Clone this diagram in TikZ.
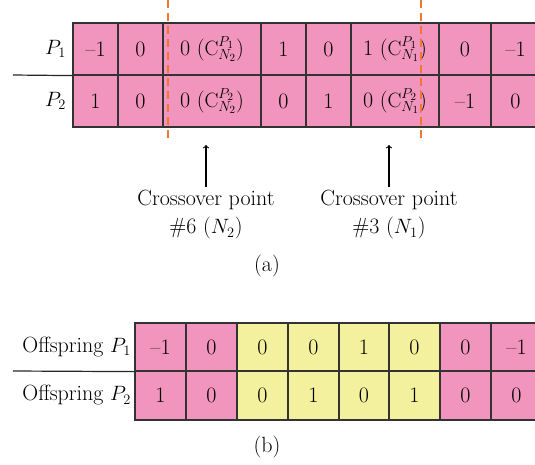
\documentclass[tikz,border=0pt]{standalone}
\usepackage{tikz}
\usetikzlibrary{positioning,calc,arrows}
\definecolor{cellpink}{RGB}{242,149,190}
\definecolor{cellyellow}{RGB}{244,241,158}
\definecolor{cutorange}{RGB}{241,118,48}

\begin{document}
\begin{tikzpicture}[x=1pt,y=-1pt,font=\fontsize{22}{28}\selectfont]
    \tikzstyle{cell}=[draw=black!80,line width=1.2pt,fill=cellpink,inner sep=0pt]
    \tikzstyle{cut}=[draw=cutorange,line width=1.5pt,dash pattern=on 8pt off 5pt]
    \tikzstyle{rule}=[draw=black!85,line width=1.2pt]
    \tikzstyle{pointer}=[->,line width=1.2pt,shorten >=1pt]
    \useasboundingbox (0,0) rectangle (535,464);

    % (a) parent chromosomes
    \foreach \xa/\xb/\va/\vb [count=\i] in {73/118/{--1}/1, 118/163/0/0,
      163/261/{0 ($\mathrm{C}^{P_1}_{N_2}$)}/{0 ($\mathrm{C}^{P_2}_{N_2}$)},
      261/306/1/0, 306/351/0/1,
      351/439/{1 ($\mathrm{C}^{P_1}_{N_1}$)}/{0 ($\mathrm{C}^{P_2}_{N_1}$)},
      439/491/0/{--1}, 491/540/{--1}/0} {
      \node[cell,minimum width={(\xb-\xa)*1pt},minimum height=52pt]
        (pa\i) at ({(\xa+\xb)/2},49) {\va};
      \node[cell,minimum width={(\xb-\xa)*1pt},minimum height=52pt]
        (pb\i) at ({(\xa+\xb)/2},101) {\vb};
    }

    \node[left=3pt of pa1] (lpa) {$P_1$};
    \node[left=3pt of pb1] (lpb) {$P_2$};
    \coordinate (sepa) at (13,75);
    \draw[rule] (sepa) -- (pa1.south west);

    % crossover cuts
    \coordinate (cut1 top) at (168,0);
    \coordinate (cut1 bot) at (168,142);
    \coordinate (cut2 top) at (421,0);
    \coordinate (cut2 bot) at (421,142);
    \draw[cut] (cut1 top) -- (cut1 bot);
    \draw[cut] (cut2 top) -- (cut2 bot);

    \node[anchor=north,align=center] (xa) at (206,187) {Crossover point\\\#6 ($N_2$)};
    \node[anchor=north,align=center] (xb) at (389,187) {Crossover point\\\#3 ($N_1$)};
    \coordinate (tipa) at (206,144);
    \coordinate (tipb) at (389,144);
    \draw[pointer] (xa.north) -- (tipa);
    \draw[pointer] (xb.north) -- (tipb);

    \node (capa) at (267,266) {(a)};

    % (b) offspring chromosomes
    \foreach \xa/\xb/\va/\vb/\c [count=\i] in {135/186/{--1}/1/cellpink,
      186/237/0/0/cellpink, 237/288/0/0/cellyellow, 288/339/0/1/cellyellow,
      339/389/1/0/cellyellow, 389/440/0/1/cellyellow, 440/491/0/0/cellpink,
      491/542/{--1}/0/cellpink} {
      \node[cell,fill=\c,minimum width={(\xb-\xa)*1pt},minimum height=48pt]
        (oa\i) at ({(\xa+\xb)/2},347) {\va};
      \node[cell,fill=\c,minimum width={(\xb-\xa)*1pt},minimum height=49pt]
        (ob\i) at ({(\xa+\xb)/2},395.5) {\vb};
    }

    \node[left=0pt of oa1] (loa) {Offspring $P_1$};
    \node[left=0pt of ob1] (lob) {Offspring $P_2$};
    \coordinate (sepb) at (13,371);
    \draw[rule] (sepb) -- (oa1.south west);

    \node (capb) at (267,447) {(b)};
\end{tikzpicture}
\end{document}
